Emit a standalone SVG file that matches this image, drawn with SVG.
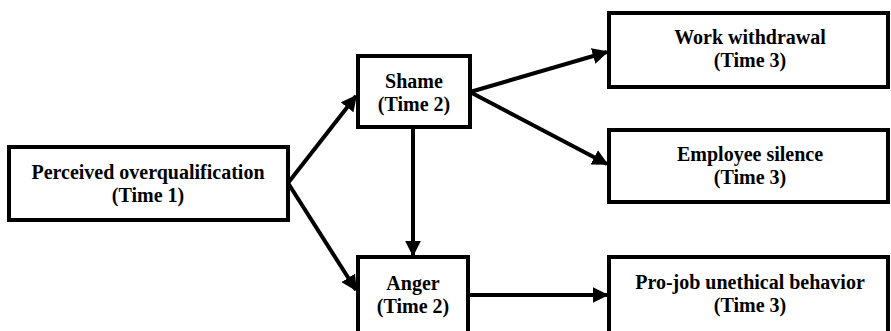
<svg xmlns="http://www.w3.org/2000/svg" width="891" height="331" viewBox="0 0 891 331">
<defs>
<style>
.box{fill:#fff;stroke:#000;stroke-width:4}
.t{font-family:"Liberation Serif","Times New Roman",serif;font-weight:bold;font-size:20px;text-anchor:middle;fill:#000}
.c{stroke:#000;stroke-width:4;fill:none}
</style>
<marker id="ah" viewBox="0 0 10 10" refX="9" refY="5" markerWidth="4" markerHeight="4" orient="auto" markerUnits="strokeWidth">
<path d="M0,0 L10,5 L0,10 z" fill="#000"/>
</marker>
</defs>
<g id="n-poq"><rect class="box" x="9" y="147" width="279" height="73"/>
<text class="t" x="148" y="179">Perceived overqualification</text><text class="t" x="148" y="202">(Time 1)</text></g>
<g id="n-shame"><rect class="box" x="358" y="56" width="112" height="71"/>
<text class="t" x="414" y="88">Shame</text><text class="t" x="414" y="111">(Time 2)</text></g>
<g id="n-anger"><rect class="box" x="358" y="257" width="110" height="80"/>
<text class="t" x="413" y="290">Anger</text><text class="t" x="413" y="313">(Time 2)</text></g>
<g id="n-ww"><rect class="box" x="609" y="13" width="279" height="74"/>
<text class="t" x="750" y="44">Work withdrawal</text><text class="t" x="750" y="67">(Time 3)</text></g>
<g id="n-es"><rect class="box" x="609" y="130" width="279" height="72"/>
<text class="t" x="750" y="161">Employee silence</text><text class="t" x="750" y="184">(Time 3)</text></g>
<g id="n-pj"><rect class="box" x="609" y="257" width="279" height="80"/>
<text class="t" x="750" y="289">Pro-job unethical behavior</text><text class="t" x="750" y="312">(Time 3)</text></g>
<g id="connectors">
<line class="c" x1="288" y1="183" x2="356" y2="96" marker-end="url(#ah)"/>
<line class="c" x1="288" y1="183" x2="356" y2="290" marker-end="url(#ah)"/>
<line class="c" x1="470" y1="92" x2="607" y2="52" marker-end="url(#ah)"/>
<line class="c" x1="470" y1="92" x2="607" y2="164" marker-end="url(#ah)"/>
<line class="c" x1="413" y1="127" x2="413" y2="255" marker-end="url(#ah)"/>
<line class="c" x1="468" y1="295" x2="607" y2="295" marker-end="url(#ah)"/>
</g>
</svg>
